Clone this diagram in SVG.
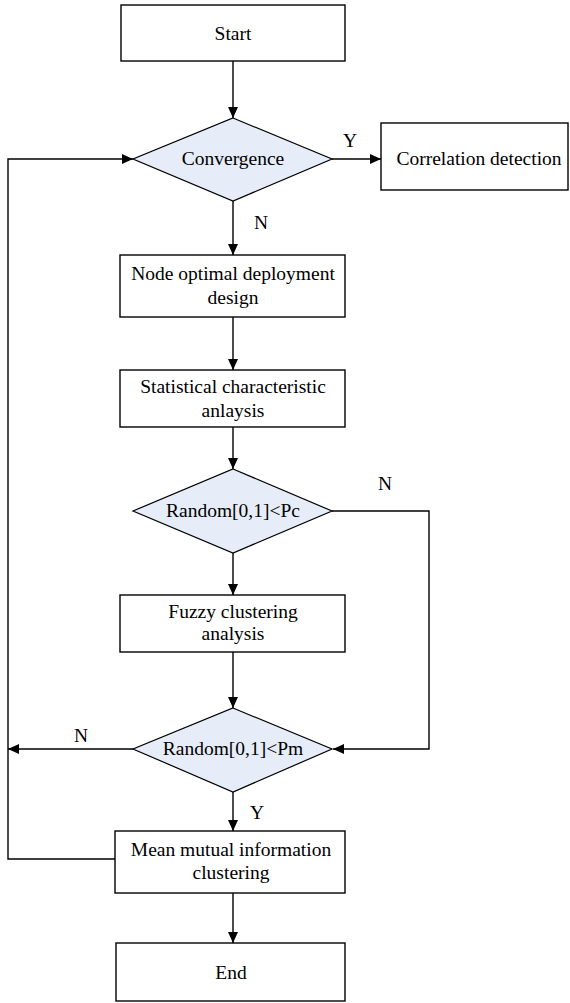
<svg xmlns="http://www.w3.org/2000/svg" width="570" height="1003" viewBox="0 0 570 1003">
<defs>
<marker id="ah" markerWidth="11" markerHeight="10" refX="11" refY="5" orient="auto" markerUnits="userSpaceOnUse">
<path d="M0,0 L11,5 L0,10 z" fill="#000"/>
</marker>
<style>
.box{fill:#fff;stroke:#000;stroke-width:1.4}
.dia{fill:#e6edf8;stroke:#000;stroke-width:1.2}
text{font-family:'Liberation Serif',Tinos,'Times New Roman','DejaVu Serif',serif;font-size:19.5px;fill:#000}
.t{text-anchor:middle}
.c{fill:none;stroke:#000;stroke-width:1.4}
</style>
</defs>
<rect width="570" height="1003" fill="#fff"/>
<g id="connectors">
<path class="c" d="M233,61 V118" marker-end="url(#ah)"/>
<path class="c" d="M332,159 H381" marker-end="url(#ah)"/>
<path class="c" d="M233,201 V255" marker-end="url(#ah)"/>
<path class="c" d="M233,317 V370" marker-end="url(#ah)"/>
<path class="c" d="M233,427 V469" marker-end="url(#ah)"/>
<path class="c" d="M233,553 V595" marker-end="url(#ah)"/>
<path class="c" d="M233,652 V708" marker-end="url(#ah)"/>
<path class="c" d="M332,511 H429 V749 H333" marker-end="url(#ah)"/>
<path class="c" d="M133,749 H8" marker-end="url(#ah)"/>
<path class="c" d="M233,792 V831" marker-end="url(#ah)"/>
<path class="c" d="M115,859 H8 V159 H133" marker-end="url(#ah)"/>
<path class="c" d="M233,893 V943" marker-end="url(#ah)"/>
<text font-family="Liberation Serif, serif" x="343" y="147">Y</text>
<text font-family="Liberation Serif, serif" x="254" y="229">N</text>
<text font-family="Liberation Serif, serif" x="378" y="490">N</text>
<text font-family="Liberation Serif, serif" x="74" y="742">N</text>
<text font-family="Liberation Serif, serif" x="250" y="819">Y</text>
</g>
<g id="start"><rect class="box" x="121" y="5" width="224" height="56"/><text class="t" x="233" y="40">Start</text></g>
<g id="convergence"><polygon class="dia" points="233,118 332,159 233,201 133,159"/><text class="t" x="233" y="165">Convergence</text></g>
<g id="correlation"><rect class="box" x="381" y="123" width="187" height="67"/><text class="t" x="479" y="165">Correlation detection</text></g>
<g id="node-deploy"><rect class="box" x="120" y="255" width="225" height="62"/><text class="t" x="233" y="280">Node optimal deployment</text><text class="t" x="233" y="304">design</text></g>
<g id="statistical"><rect class="box" x="120" y="370" width="225" height="57"/><text class="t" x="233" y="393">Statistical characteristic</text><text class="t" x="233" y="417">anlaysis</text></g>
<g id="random-pc"><polygon class="dia" points="233,469 332,511 233,553 133,511"/><text class="t" x="233" y="517">Random[0,1]&lt;Pc</text></g>
<g id="fuzzy"><rect class="box" x="120" y="595" width="225" height="57"/><text class="t" x="233" y="618">Fuzzy clustering</text><text class="t" x="233" y="640">analysis</text></g>
<g id="random-pm"><polygon class="dia" points="233,708 332,749 233,792 133,749"/><text class="t" x="233" y="755">Random[0,1]&lt;Pm</text></g>
<g id="mean"><rect class="box" x="115" y="831" width="230" height="62"/><text class="t" x="231" y="856">Mean mutual information</text><text class="t" x="231" y="879">clustering</text></g>
<g id="end"><rect class="box" x="116" y="943" width="229" height="58"/><text class="t" x="231" y="979">End</text></g>
</svg>
